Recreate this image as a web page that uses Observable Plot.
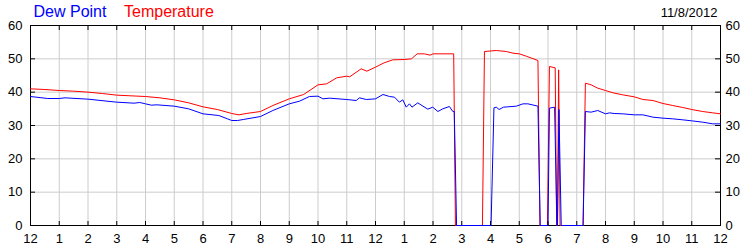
<!DOCTYPE html>
<html><head><meta charset="utf-8">
<script src="https://cdn.jsdelivr.net/npm/d3@7"></script>
<script src="https://cdn.jsdelivr.net/npm/@observablehq/plot@0.6"></script>
<style>html,body{margin:0;padding:0;background:#fff;} #chart svg{display:block;}</style>
</head><body><div id="chart"></div>
<script>
// Temperature (red) — hours since midnight, °F (0 = missing reading)
const tempHours = [0, 0.5, 1, 1.5, 2, 2.5, 3, 3.5, 4, 4.5, 5, 5.5, 6, 6.5, 7, 7.25, 7.5, 8, 8.43, 9, 9.5, 10, 10.3, 10.65, 11, 11.1, 11.5, 11.7, 12, 12.3, 12.6, 13, 13.25, 13.45, 13.7, 13.9, 14, 14.72, 14.78, 15.72, 15.79, 16.2, 16.55, 16.78, 17.0, 17.24, 17.65, 17.72, 17.98, 18.05, 18.25, 18.3, 18.33, 18.37, 18.42, 19.22, 19.3, 19.5, 19.73, 20, 20.26, 20.6, 21, 21.3, 21.65, 22, 22.34, 22.69, 23, 23.38, 23.73, 24];
const tempValues = [41.0, 40.8, 40.5, 40.3, 40.0, 39.6, 39.1, 38.9, 38.7, 38.3, 37.7, 36.8, 35.6, 34.8, 33.6, 33.2, 33.6, 34.2, 36.0, 38.0, 39.3, 42.2, 42.5, 44.3, 44.8, 44.6, 47.0, 46.3, 47.5, 48.8, 49.7, 49.8, 50.0, 51.5, 51.5, 51.1, 51.5, 51.5, 0, 0, 52.2, 52.5, 52.2, 51.7, 51.5, 50.8, 49.5, 0, 0, 47.7, 47.3, 0, 0, 46.7, 0, 0, 42.7, 42.2, 41.2, 40.5, 39.8, 39.2, 38.6, 37.8, 37.5, 36.6, 36.0, 35.4, 34.8, 34.2, 33.8, 33.5];

// Dew point (blue)
const dewHours = [0, 0.6, 1, 1.2, 2, 3, 3.6, 3.8, 4, 4.2, 4.4, 5, 5.5, 6, 6.55, 6.85, 7, 7.2, 7.4, 8, 8.43, 9, 9.36, 9.7, 10, 10.17, 10.4, 11, 11.33, 11.44, 11.68, 12, 12.26, 12.49, 12.66, 12.83, 12.95, 13.07, 13.18, 13.27, 13.47, 13.65, 13.82, 13.99, 14.17, 14.34, 14.57, 14.69, 14.74, 14.82, 16.02, 16.12, 16.2, 16.3, 16.45, 16.6, 16.9, 17.13, 17.3, 17.65, 17.73, 18.0, 18.05, 18.23, 18.31, 18.33, 18.38, 18.46, 19.22, 19.3, 19.5, 19.73, 20, 20.14, 20.3, 20.6, 21, 21.3, 21.65, 22, 22.34, 22.69, 23, 23.38, 23.73, 24];
const dewValues = [38.7, 38.1, 38.1, 38.3, 37.9, 37.0, 36.7, 36.9, 36.5, 36.1, 36.2, 35.8, 35.0, 33.5, 33.0, 32.0, 31.5, 31.5, 31.8, 32.7, 34.5, 36.5, 37.3, 38.7, 38.8, 38.0, 38.2, 37.8, 37.5, 38.3, 37.8, 38.0, 39.3, 38.7, 38.5, 37.0, 37.7, 35.5, 36.5, 35.5, 36.8, 35.8, 34.9, 35.5, 34.2, 35.0, 35.7, 34.2, 34.2, 0, 0, 35.3, 35.5, 34.8, 35.5, 35.6, 35.8, 36.5, 36.5, 35.8, 0, 0, 35.2, 35.5, 0, 0, 34.8, 0, 0, 34.2, 34.0, 34.5, 33.5, 33.8, 33.6, 33.5, 33.2, 33.2, 32.5, 32.2, 32.0, 31.7, 31.4, 31.0, 30.5, 30.5];

const hourTicks = [0, 1, 2, 3, 4, 5, 6, 7, 8, 9, 10, 11, 12, 13, 14, 15, 16, 17, 18, 19, 20, 21, 22, 23, 24];
const hourLabels = ["12", "1", "2", "3", "4", "5", "6", "7", "8", "9", "10", "11", "12", "1", "2", "3", "4", "5", "6", "7", "8", "9", "10", "11", "12"];
const valueTicks = [0, 10, 20, 30, 40, 50, 60];
const dewName = ["Dew Point"];
const tempName = ["Temperature"];
const dateLabel = ["11/8/2012"];

const temp = tempHours.map((h, i) => ({h, v: tempValues[i]}));
const dew = dewHours.map((h, i) => ({h, v: dewValues[i]}));

const W = 750, H = 250, mL = 30, mR = 30, mT = 25, mB = 25;
const fw = W - mL - mR, fh = H - mT - mB;
const font = "'Liberation Sans', Arial, sans-serif";

const chart = Plot.plot({
  width: W, height: H,
  marginLeft: mL, marginRight: mR, marginTop: mT, marginBottom: mB,
  style: {fontFamily: font, background: "#fff", overflow: "visible", color: "black"},
  x: {domain: [0, 24], axis: null, label: null},
  y: {domain: [0, 60], axis: null, label: null},
  marks: [
    Plot.ruleX(hourTicks, {x: d => d, stroke: "#cccccc"}),
    Plot.ruleY(valueTicks, {y: d => d, stroke: "#cccccc"}),
    Plot.frame({stroke: "black"}),
    Plot.line(temp, {x: "h", y: "v", stroke: "#ff0000", strokeWidth: 1}),
    Plot.line(dew, {x: "h", y: "v", stroke: "#0000ff", strokeWidth: 1}),
    Plot.tickX(hourTicks, {x: d => d, insetTop: fh - 4, stroke: "black"}),
    Plot.tickX(hourTicks, {x: d => d, insetBottom: fh - 5, stroke: "black"}),
    Plot.tickY(valueTicks, {y: d => d, insetRight: fw - 5, stroke: "black"}),
    Plot.tickY(valueTicks, {y: d => d, insetLeft: fw - 5, stroke: "black"}),
    Plot.axisX(hourTicks, {anchor: "bottom", label: null, tickSize: 0, tickPadding: 8, fontSize: 13, fill: "black",
      tickFormat: d => hourLabels[hourTicks.indexOf(d)]}),
    Plot.axisY(valueTicks, {anchor: "left", label: null, tickSize: 0, tickPadding: 8, fontSize: 13, fill: "black", tickFormat: d => String(d)}),
    Plot.axisY(valueTicks, {anchor: "right", label: null, tickSize: 0, tickPadding: 5, fontSize: 13, fill: "black", tickFormat: d => String(d)}),
    Plot.text(dewName, {text: d => d, frameAnchor: "top-left", dx: 3, dy: -8.5, lineAnchor: "bottom", textAnchor: "start", fill: "#0000ff", fontSize: 16}),
    Plot.text(tempName, {text: d => d, frameAnchor: "top-left", dx: 93.5, dy: -8.5, lineAnchor: "bottom", textAnchor: "start", fill: "#ff0000", fontSize: 16}),
    Plot.text(dateLabel, {text: d => d, frameAnchor: "top-right", dx: -3, dy: -8.5, lineAnchor: "bottom", textAnchor: "end", fill: "black", fontSize: 13})
  ]
});
document.getElementById("chart").appendChild(chart);
</script>
</body></html>
